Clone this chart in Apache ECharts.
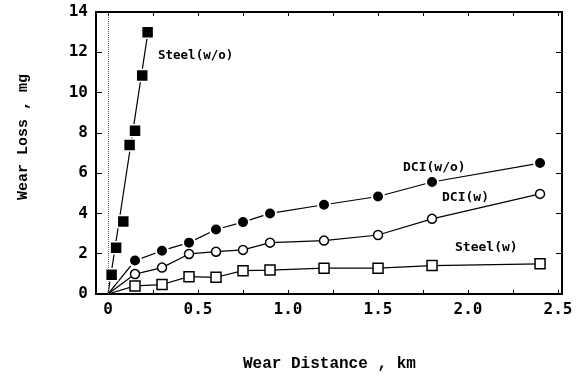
<!DOCTYPE html>
<html>
<head>
<meta charset="utf-8">
<script src="https://cdn.jsdelivr.net/npm/echarts@6/dist/echarts.min.js"></script>
<style>
  html, body { margin: 0; padding: 0; background: #fff; }
  #chart { width: 581px; height: 379px; }
</style>
</head>
<body>
<div id="chart"></div>
<script>
// wear distance (km) and wear loss (mg)
const steelWoX = [0.02, 0.045, 0.085, 0.12, 0.15, 0.19, 0.22]
const steelWoY = [0.95, 2.3, 3.6, 7.4, 8.1, 10.85, 13.0]
const steelWoFitX = [0, 0.222]
const steelWoFitY = [0, 13.0]

const dciX = [0.15, 0.3, 0.45, 0.6, 0.75, 0.9, 1.2, 1.5, 1.8, 2.4]
const dciWoY = [1.66, 2.15, 2.55, 3.2, 3.57, 4.0, 4.43, 4.84, 5.56, 6.5]
const dciWY = [0.99, 1.31, 1.99, 2.1, 2.19, 2.55, 2.65, 2.93, 3.73, 4.97]
const steelWY = [0.4, 0.47, 0.86, 0.83, 1.16, 1.19, 1.28, 1.28, 1.41, 1.5]

const xTicks = [0, 0.25, 0.5, 0.75, 1.0, 1.25, 1.5, 1.75, 2.0, 2.25, 2.5]
const xLabels = [0, 0.5, 1.0, 1.5, 2.0, 2.5]

const pairs = (xs, ys) => xs.map((x, i) => [x, ys[i]])
const withOrigin = (xs, ys) => [[0, 0]].concat(pairs(xs, ys))

var myChart = echarts.init(document.getElementById('chart'))

const tickFont = { fontFamily: 'DejaVu Sans Mono', fontWeight: 'bold', fontSize: 16, color: '#000' }
const noteFont = { fontFamily: 'DejaVu Sans Mono', fontWeight: 'bold', fontSize: 13, fill: '#000' }

function xAx(pos, showLabel) {
  return {
    type: 'value', position: pos, min: -0.0667, max: 2.522,
    axisLine: { onZero: false, lineStyle: { color: '#000', width: 2 } },
    axisTick: { inside: true, length: 4, customValues: xTicks, lineStyle: { color: '#000' } },
    axisLabel: showLabel ? Object.assign({ customValues: xLabels, margin: 8, formatter: v => v === 0 ? '0' : v.toFixed(1) }, tickFont) : { show: false },
    splitLine: { show: false }
  }
}
function yAx(pos, showLabel) {
  return {
    type: 'value', position: pos, min: 0, max: 14, interval: 2,
    axisLine: { onZero: false, lineStyle: { color: '#000', width: 2 } },
    axisTick: { inside: true, length: 6, lineStyle: { color: '#000' } },
    axisLabel: showLabel ? Object.assign({ margin: 8 }, tickFont) : { show: false },
    splitLine: { show: false }
  }
}

const lineStyle = { color: '#000', width: 1.2 }

var option = {
  animation: false,
  grid: { left: 96, right: 19, top: 12, bottom: 85 },
  xAxis: [xAx('bottom', true), xAx('top', false)],
  yAxis: [yAx('left', true), yAx('right', false)],
  series: [
    {
      type: 'line', data: pairs(steelWoFitX, steelWoFitY), showSymbol: false, lineStyle: lineStyle,
      markLine: {
        silent: true, symbol: 'none', label: { show: false },
        lineStyle: { type: 'dotted', color: '#666', width: 1 },
        data: [{ xAxis: 0 }]
      }
    },
    { type: 'line', data: withOrigin(dciX, dciWoY), showSymbol: false, lineStyle: lineStyle },
    { type: 'line', data: withOrigin(dciX, dciWY), showSymbol: false, lineStyle: lineStyle },
    { type: 'line', data: withOrigin(dciX, steelWY), showSymbol: false, lineStyle: lineStyle },
    {
      type: 'scatter', data: pairs(steelWoX, steelWoY), symbol: 'rect', symbolSize: 12, z: 5,
      itemStyle: { color: '#000', borderColor: '#fff', borderWidth: 1.5, opacity: 1 }
    },
    {
      type: 'scatter', data: pairs(dciX, dciWoY), symbol: 'circle', symbolSize: 12, z: 5,
      itemStyle: { color: '#000', borderColor: '#fff', borderWidth: 2, opacity: 1 }
    },
    {
      type: 'scatter', data: pairs(dciX, dciWY), symbol: 'circle', symbolSize: 9, z: 5,
      itemStyle: { color: '#fff', borderColor: '#000', borderWidth: 1.5, opacity: 1 }
    },
    {
      type: 'scatter', data: pairs(dciX, steelWY), symbol: 'rect', symbolSize: 10, z: 5,
      itemStyle: { color: '#fff', borderColor: '#000', borderWidth: 1.5, opacity: 1 }
    }
  ],
  graphic: [
    { type: 'text', left: 158, top: 49, style: Object.assign({}, noteFont, { text: 'Steel(w/o)', fontSize: 12.5 }) },
    { type: 'text', left: 403, top: 161, style: Object.assign({}, noteFont, { text: 'DCI(w/o)' }) },
    { type: 'text', left: 442, top: 191, style: Object.assign({}, noteFont, { text: 'DCI(w)' }) },
    { type: 'text', left: 455, top: 241, style: Object.assign({}, noteFont, { text: 'Steel(w)' }) },
    {
      type: 'text', left: 243, top: 356,
      style: { text: 'Wear Distance , km', fontFamily: 'Liberation Mono', fontWeight: 'bold', fontSize: 16, fill: '#000' }
    },
    {
      type: 'text', x: 16, y: 200, rotation: Math.PI / 2,
      style: { text: 'Wear Loss , mg', fontFamily: 'Liberation Mono', fontWeight: 'bold', fontSize: 15, fill: '#000' }
    }
  ]
}

myChart.setOption(option)
</script>
</body>
</html>
